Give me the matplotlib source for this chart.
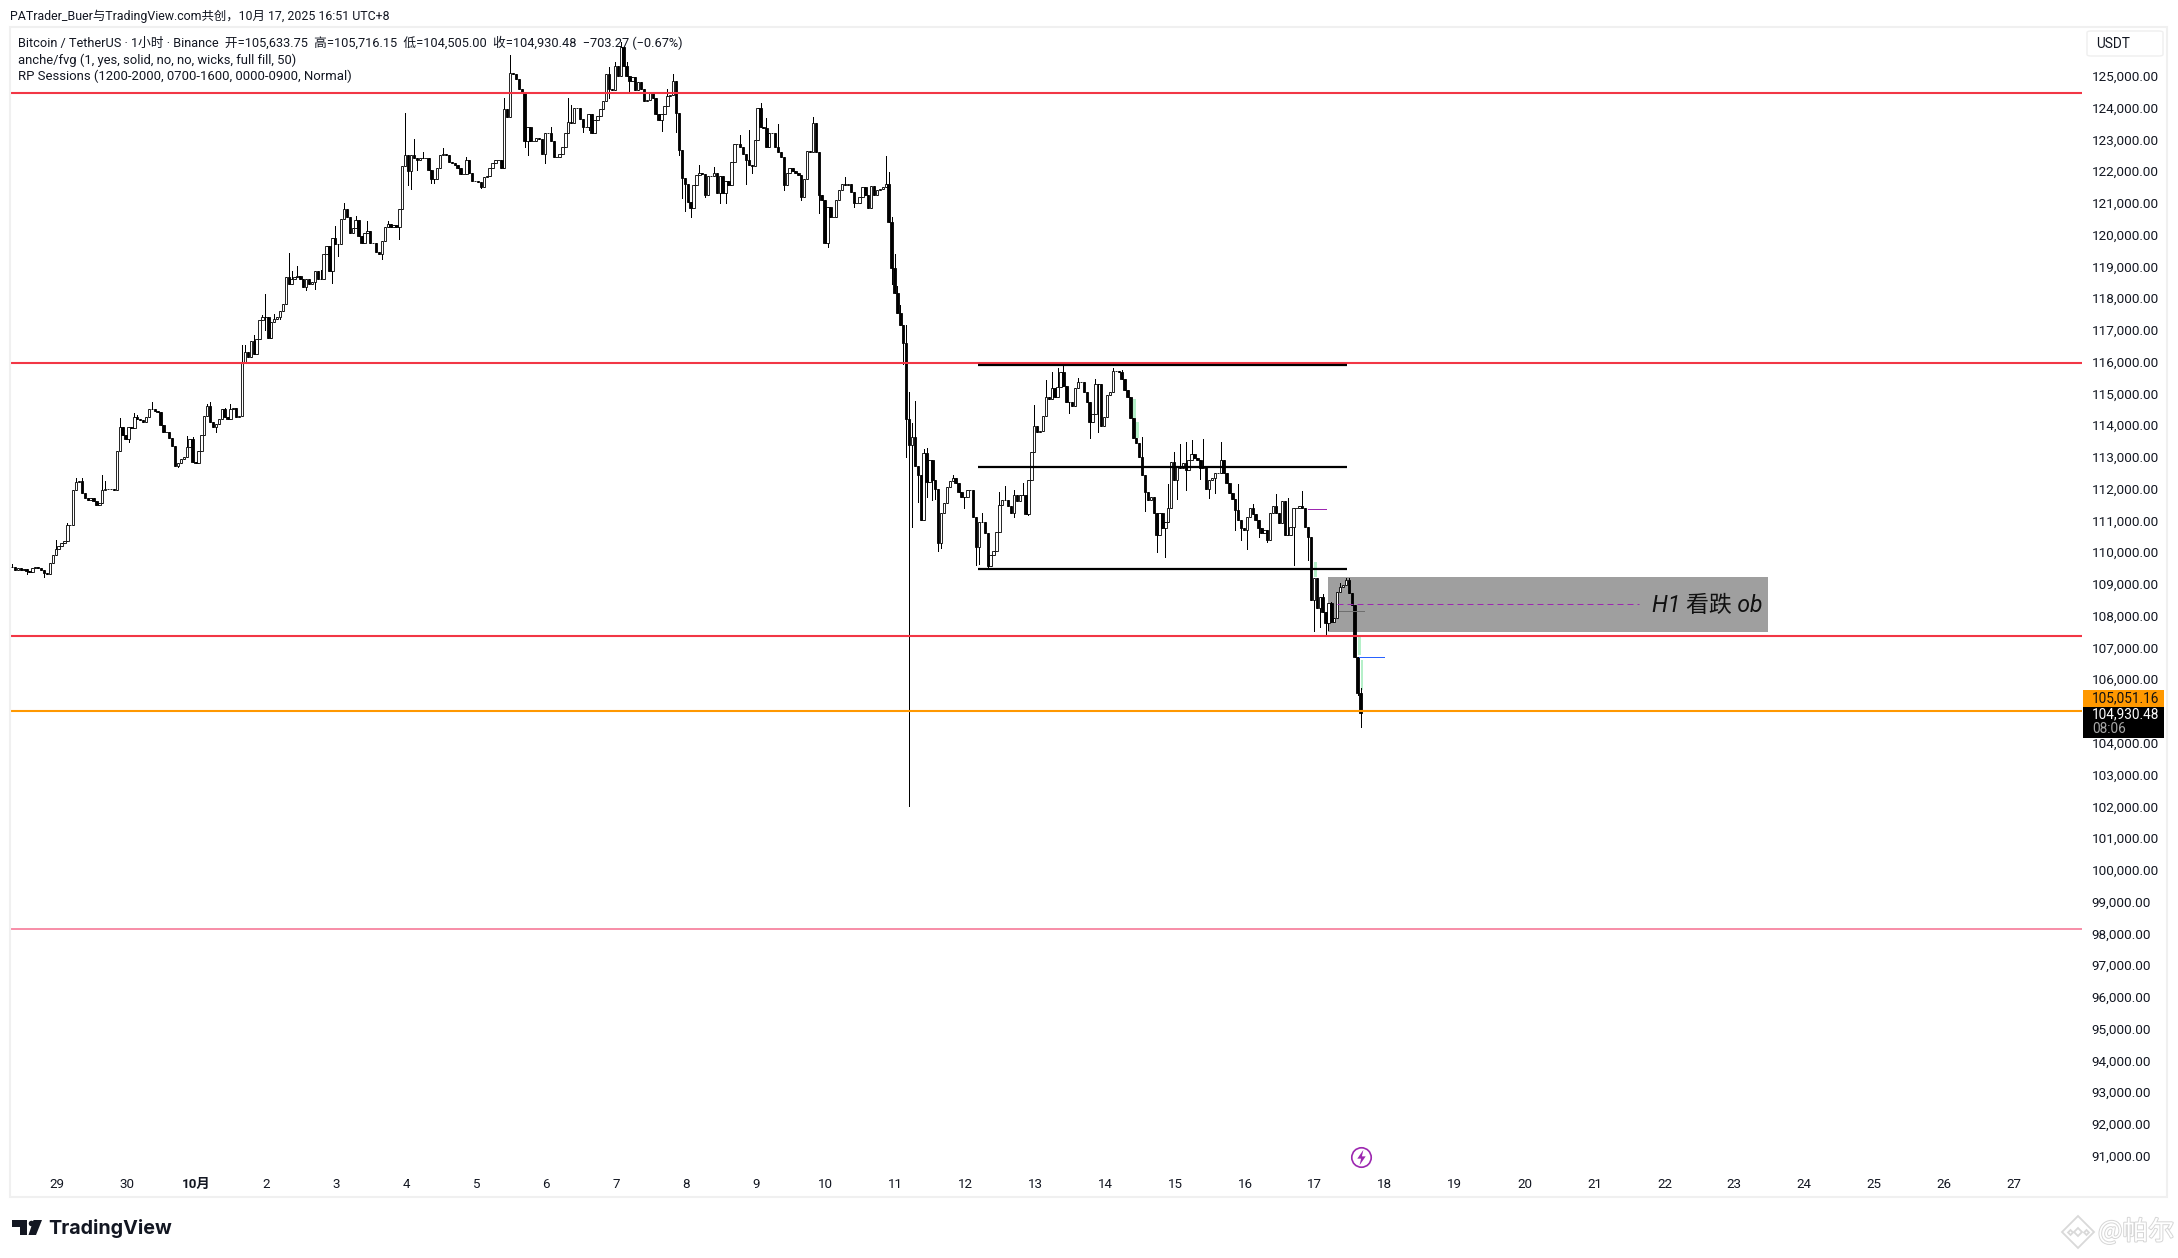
import matplotlib
matplotlib.use('Agg')
import matplotlib.pyplot as plt
import matplotlib.patheffects as pe
from matplotlib.lines import Line2D
from matplotlib.patches import Rectangle, FancyBboxPatch, Polygon
from matplotlib.path import Path
import numpy as np

# hourly closes in thousands of USDT, last bar is Oct 17 16:00
closes = [
    109.55, 109.45, 109.5, 109.45, 109.48, 109.42, 109.38, 109.5, 109.55, 109.5,
    109.45, 109.35, 109.3, 109.65, 109.9, 110.1, 110.2, 110.3, 110.35, 110.85,
    110.85, 111.95, 112.2, 112.25, 111.85, 111.7, 111.65, 111.7, 111.6, 111.5,
    111.55, 111.95, 112.0, 112.0, 112.0, 111.95, 113.2, 113.95, 113.7, 113.55,
    113.95, 113.9, 114.25, 114.2, 114.15, 114.1, 114.25, 114.5, 114.5, 114.45,
    114.4, 114.0, 113.8, 113.8, 113.6, 113.35, 112.7, 112.8, 112.95, 113.0,
    113.3, 113.55, 112.85, 112.8, 113.2, 113.7, 114.3, 114.6, 114.1, 113.95,
    114.05, 114.2, 114.5, 114.25, 114.2, 114.5, 114.55, 114.25, 114.3, 116.0,
    116.3, 116.15, 116.65, 116.25, 116.7, 117.3, 117.4, 117.4, 116.75, 117.25,
    117.35, 117.4, 117.6, 117.8, 118.65, 118.45, 118.6, 118.65, 118.7, 118.6,
    118.35, 118.6, 118.45, 118.5, 118.85, 118.6, 118.6, 119.4, 119.65, 118.85,
    119.9, 119.7, 119.7, 120.5, 120.8, 120.55, 120.05, 120.2, 120.45, 119.95,
    119.75, 120.05, 120.1, 119.75, 119.75, 119.45, 119.4, 119.8, 120.25, 120.35,
    120.25, 120.3, 120.25, 120.8, 122.15, 122.5, 122.0, 122.5, 122.4, 122.35,
    122.4, 122.4, 122.4, 122.05, 121.75, 121.75, 122.1, 122.5, 122.55, 122.5,
    122.3, 122.25, 122.2, 122.1, 121.9, 121.9, 122.35, 121.95, 121.7, 121.7,
    121.65, 121.5, 121.8, 121.85, 122.1, 122.25, 122.35, 122.35, 122.1, 123.95,
    123.7, 125.1, 125.05, 124.9, 124.6, 124.5, 122.95, 123.4, 122.95, 122.95,
    123.05, 123.0, 122.55, 123.2, 123.2, 122.95, 122.45, 122.45, 122.55, 122.75,
    123.2, 123.55, 123.5, 124.0, 124.0, 123.65, 123.4, 123.4, 123.8, 123.2,
    123.6, 123.75, 123.95, 124.2, 125.05, 124.6, 124.55, 125.3, 125.0, 125.9,
    125.3, 125.0, 124.85, 124.95, 124.55, 124.8, 124.6, 124.2, 124.25, 124.45,
    124.3, 123.8, 123.6, 123.8, 124.05, 124.35, 124.4, 124.85, 123.82, 122.66,
    121.77, 121.6, 121.04, 120.83, 121.56, 121.88, 121.93, 121.9, 121.25, 121.85,
    121.85, 121.95, 121.3, 121.85, 121.3, 121.7, 121.55, 122.3, 122.85, 122.85,
    122.75, 122.55, 122.35, 122.2, 122.15, 122.98, 123.98, 123.4, 123.35, 122.77,
    123.2, 123.2, 122.77, 122.6, 122.45, 121.56, 121.93, 122.09, 122.0, 121.95,
    121.88, 121.2, 121.74, 122.64, 122.6, 123.5, 122.6, 121.25, 121.1, 119.75,
    120.88, 120.56, 120.56, 121.09, 121.4, 121.6, 121.55, 121.6, 121.35, 120.98,
    120.98, 121.2, 121.5, 121.25, 120.85, 121.54, 121.25, 121.4, 121.45, 121.5,
    121.6, 120.41, 118.94, 118.15, 117.54, 117.17, 116.6, 114.21, 113.37,
    113.64, 112.7, 112.43, 111.0, 113.11, 112.22, 112.9, 112.28, 111.98, 110.3,
    111.25, 111.56, 112.05, 112.25, 112.33, 112.19, 111.91, 111.75, 111.75, 111.96,
    111.96, 111.12, 110.17, 110.96, 110.96, 110.6, 109.57, 109.91, 110.05, 110.65,
    111.49, 111.65, 111.65, 111.47, 111.25, 111.8, 111.6, 111.8, 111.8, 111.2,
    112.27, 113.14, 113.98, 113.77, 113.83, 114.29, 114.88, 114.82, 115.16, 114.9,
    115.2, 115.67, 115.24, 114.74, 114.74, 114.59, 115.16, 115.37, 115.37, 115.06,
    114.74, 114.11, 114.35, 115.3, 115.3, 113.96, 114.25, 114.95, 115.06, 115.72,
    115.72, 115.69, 115.45, 115.11, 114.9, 114.22, 113.59, 113.43, 112.99, 112.43,
    111.91, 111.65, 111.75, 111.25, 110.54, 111.25, 110.75, 110.96, 111.38, 112.85,
    112.27, 112.7, 112.64, 112.8, 112.59, 112.9, 113.1, 112.96, 112.9, 112.64,
    112.72, 111.98, 112.27, 112.33, 112.5, 112.5, 112.9, 112.5, 112.19, 111.85,
    111.67, 111.33, 111.02, 110.75, 110.7, 111.12, 111.38, 111.2, 111.02, 110.75,
    110.62, 110.7, 110.38, 111.25, 111.47, 111.25, 110.91, 111.6, 110.54, 110.54,
    110.8, 111.4, 111.38, 111.44, 111.38, 110.8, 110.47,
    108.5, 109.18, 108.23, 108.6, 108.13, 107.78, 108.39, 107.81, 107.92, 108.76,
    108.92, 108.97, 109.12, 108.73, 108.34, 106.71, 105.58, 104.93,
]

# wicks worth seeing: hour since Sep 29 00:00 and the price they reach
high_hours = [-15, 0, 4, 7, 9, 16, 17, 22, 27, 28, 33, 45, 47, 52, 53, 58, 60, 64, 65, 68, 71, 72, 75, 80, 81, 83,
              91, 96, 99, 103, 107, 114, 120, 123, 126, 133, 141, 154, 156, 170, 176, 177, 190, 192, 194, 196, 210,
              212, 221, 226, 235, 238, 242, 244, 248, 260, 271, 285, 286, 287, 288, 289, 290, 292, 293, 294, 295,
              298, 299, 308, 318, 324, 326, 329, 332, 336, 340, 342, 344, 346, 351, 357, 363, 366, 373, 382, 384,
              386, 388, 390, 394, 400, 406, 411, 419, 423, 428, 435, 438, 441, 443, 444, 448]
high_prices = [109.63, 110.39, 110.91, 112.33, 112.33, 112.42, 112.25, 114.22, 114.39, 114.33, 114.74, 113.66,
               113.64, 114.68, 114.72, 114.55, 114.68, 116.54, 116.52, 116.83, 117.47, 118.14, 117.5, 119.41,
               118.86, 119.0, 118.9, 120.26, 120.98, 120.6, 120.43, 120.43, 123.83, 123.0, 122.61, 122.72, 122.43,
               124.29, 125.66, 123.38, 124.29, 124.08, 125.29, 125.45, 126.07, 125.45, 124.58, 125.06, 122.19,
               122.14, 123.14, 123.3, 124.13, 123.66, 123.48, 123.69, 121.82, 122.48, 121.98, 120.56, 119.39,
               118.38, 117.78, 117.15, 115.06, 114.06, 114.76, 113.24, 113.27, 112.43, 111.22, 111.91, 112.1,
               111.95, 112.19, 114.64, 115.43, 115.69, 115.79, 115.9, 115.5, 115.45, 115.8, 115.75, 113.62, 112.15,
               113.14, 113.41, 113.48, 113.54, 113.57, 113.46, 112.15, 111.52, 111.83, 111.7, 111.93, 108.7,
               108.44, 109.04, 109.18, 109.18, 105.72]
low_hours = [-10, -4, 25, 42, 55, 72, 77, 86, 89, 95, 97, 112, 118, 121, 122, 124, 129, 130, 146, 161, 162, 168,
             172, 181, 183, 190, 197, 208, 213, 214, 215, 216, 217, 218, 223, 228, 230, 237, 239, 250, 256, 262,
             265, 274, 280, 287, 291, 292, 293, 294, 296, 299, 301, 302, 303, 304, 312, 316, 317, 320, 329, 334,
             348, 355, 358, 374, 378, 381, 385, 388, 393, 396, 398, 405, 407, 409, 413, 416, 425, 430, 432, 434,
             436, 437, 447, 448]
low_prices = [109.3, 109.23, 113.46, 112.69, 113.78, 117.0, 117.33, 118.25, 118.3, 118.49, 119.33, 119.23, 119.85,
              121.56, 121.44, 122.02, 121.64, 121.64, 121.46, 122.77, 122.51, 122.27, 122.43, 123.24, 123.3,
              124.29, 124.47, 123.27, 123.24, 122.51, 121.14, 120.75, 121.04, 120.54, 121.2, 121.0, 121.0, 121.6,
              121.93, 121.4, 121.09, 120.67, 119.6, 120.86, 120.83, 118.46, 115.92, 113.0, 102.0, 110.8, 111.59,
              111.74, 111.65, 111.69, 110.05, 110.12, 111.4, 109.6, 109.63, 109.49, 111.1, 111.17, 114.38, 113.59,
              113.77, 111.31, 110.0, 109.84, 111.67, 111.97, 112.3, 111.7, 111.86, 110.7, 110.37, 110.1, 110.49,
              110.33, 109.6, 109.74, 107.53, 107.66, 107.39, 107.55, 105.5, 104.5]

red_levels = [124.47, 115.96, 107.36]
orange_level = 105.0
pink_level = 98.15
range_levels = [115.9, 112.69, 109.47]

# unfilled gap strips beside the big drops: hour, bottom, top
fvg_hours = [370, 371, 432, 447, 448]
fvg_bottoms = [114.22, 113.59, 109.23, 106.76, 105.66]
fvg_tops = [114.82, 114.11, 109.7, 107.4, 106.6]

price_ticks = list(range(91, 126))
day_labels = ['29', '30', '10月'] + [str(d) for d in range(2, 28)]

W, H = 2178, 1258
CJK = ['Roboto', 'Noto Sans CJK SC', 'DejaVu Sans']
INK = '#131722'


def fx(x):
    return x / W


def fy(y):
    return 1 - y / H


def px_text(x, y, s, **kw):
    kw.setdefault('va', 'center')
    kw.setdefault('family', CJK)
    kw.setdefault('color', INK)
    return fig.text(fx(x), fy(y), s, **kw)


def px_box(x0, y0, x1, y1, **kw):
    r = Rectangle((fx(x0), fy(y1)), (x1 - x0) / W, (y1 - y0) / H, transform=fig.transFigure, **kw)
    fig.add_artist(r)
    return r


fig = plt.figure(figsize=(W / 100, H / 100), dpi=100, facecolor='white')
ax = fig.add_axes([fx(10), fy(1172), (2082 - 10) / W, (1172 - 27) / H])

# 55.7 px is Sep 29 00:00, 2.9125 px per hour, 31.76 px per 1000
ax.set_xlim((10 - 55.7) / 2.9125, (2082 - 55.7) / 2.9125)
ax.set_ylim(107 + (647.5 - 1172) / 31.76, 107 + (647.5 - 27) / 31.76)
for s in ax.spines.values():
    s.set_visible(False)

closes_arr = np.array(closes)
hours = np.arange(449 - len(closes), 449)
opens_arr = np.r_[closes_arr[0], closes_arr[:-1]]
highs = np.maximum(opens_arr, closes_arr)
lows = np.minimum(opens_arr, closes_arr)
for h, p in zip(high_hours, high_prices):
    highs[h - hours[0]] = max(p, highs[h - hours[0]])
for h, p in zip(low_hours, low_prices):
    lows[h - hours[0]] = min(p, lows[h - hours[0]])

ax.add_patch(Rectangle(((1328 - 55.7) / 2.9125, 107.5), (1768 - 1328) / 2.9125, 109.22 - 107.5,
                       facecolor='#9f9f9f', edgecolor='none', zorder=1))
ax.bar(fvg_hours, np.array(fvg_tops) - np.array(fvg_bottoms), bottom=fvg_bottoms, width=1.0, align='edge',
       color='#b5f0c9', linewidth=0, zorder=1.5)

ax.vlines(hours, lows, highs, color='black', linewidth=0.72, antialiased=False, zorder=2)
up = closes_arr >= opens_arr
ax.bar(hours[up], (closes_arr - opens_arr)[up], bottom=opens_arr[up], width=0.82, facecolor='white',
       edgecolor='black', linewidth=0.6, zorder=3)
ax.bar(hours[~up], (closes_arr - opens_arr)[~up], bottom=opens_arr[~up], width=0.82, facecolor='black',
       edgecolor='black', linewidth=0.6, zorder=3)

for lvl in red_levels:
    ax.axhline(lvl, color='#f23645', linewidth=1.5, zorder=4)
ax.axhline(orange_level, color='#ff9800', linewidth=1.5, zorder=4)
ax.axhline(pink_level, color='#f78da7', linewidth=1.4, zorder=4)
ax.hlines(range_levels, (978 - 55.7) / 2.9125, (1347 - 55.7) / 2.9125, color='black', linewidth=1.6, zorder=5)

ax.hlines(108.36, (1337 - 55.7) / 2.9125, (1639 - 55.7) / 2.9125, color='#9c27b0', linewidth=0.72,
          linestyles=(0, (6, 4)), zorder=4)
ax.hlines(108.14, (1339 - 55.7) / 2.9125, (1364 - 55.7) / 2.9125, color='#6f6f6f', linewidth=0.72,
          antialiased=False, zorder=4)
ax.hlines(106.69, (1359 - 55.7) / 2.9125, (1384 - 55.7) / 2.9125, color='#2962ff', linewidth=0.72,
          antialiased=False, zorder=4)
ax.hlines(111.35, (1308 - 55.7) / 2.9125, (1326 - 55.7) / 2.9125, color='#9c27b0', linewidth=0.72,
          antialiased=False, zorder=4)

ax.text((1762 - 55.7) / 2.9125, 108.33, 'H1 看跌 ob', ha='right', va='center', fontsize=16.5, style='italic',
        family=['Roboto', 'Noto Sans CJK SC'], color='#111111', zorder=6)

# session marker on the time scale
bolt = Path([(0.25, 1), (-0.55, -0.15), (-0.05, -0.15), (-0.25, -1), (0.55, 0.15), (0.05, 0.15), (0.25, 1)])
ax.plot([448], [90.97], marker='o', markersize=14, markerfacecolor='white', markeredgecolor='#9c27b0',
        markeredgewidth=1.2, zorder=6)
ax.plot([448], [90.97], marker=bolt, markersize=11, color='#9c27b0', markeredgewidth=0, zorder=7)

# labels sit about a pixel right of the midnight position
ax.set_xticks(np.arange(len(day_labels)) * 24 + 0.35)
ax.set_xticklabels(day_labels, family=CJK, fontsize=9.6, color=INK)
ax.get_xticklabels()[2].set_fontweight('bold')
ax.yaxis.tick_right()
ax.set_yticks(price_ticks)
ax.set_yticklabels(['%d,000.00' % p for p in price_ticks], family='Roboto', fontsize=9.7, color=INK)
ax.tick_params(axis='x', length=0, pad=4)
ax.tick_params(axis='y', length=0, pad=7)

# pane frame
px_box(10, 27, 2167, 1197, facecolor='none', edgecolor='#f0f0f0', linewidth=1.5, zorder=0.5)

# price labels
px_box(2083, 690, 2164, 707, facecolor='#ff9800', edgecolor='none', zorder=2)
px_box(2083, 707, 2164, 738, facecolor='black', edgecolor='none', zorder=2)
px_text(2092, 698, '105,051.16', family='Roboto', fontsize=9.8, color='#111111')
px_text(2092, 714.5, '104,930.48', family='Roboto', fontsize=9.8, color='white')
px_text(2092, 729, '08:06', family='Roboto', fontsize=9.8, color='#a8a8a8')

usdt = FancyBboxPatch((fx(2087), fy(56)), 76 / W, 25 / H, boxstyle='round,pad=0,rounding_size=0.002',
                      mutation_aspect=H / W, transform=fig.transFigure, facecolor='white', edgecolor='#efefef',
                      linewidth=1.0, zorder=2)
fig.add_artist(usdt)
px_text(2096, 43.5, 'USDT', family='Roboto', fontsize=9.8)

# header texts
px_text(10, 16, 'PATrader_Buer与TradingView.com共创，10月 17, 2025 16:51 UTC+8', fontsize=8.94)
px_text(18, 43, 'Bitcoin / TetherUS · 1小时 · Binance  开=105,633.75  高=105,716.15  低=104,505.00  收=104,930.48  '
                '−703.27 (−0.67%)', fontsize=9.15)
px_text(18, 60, 'anche/fvg (1, yes, solid, no, no, wicks, full fill, 50)', fontsize=9.35)
px_text(18, 76.5, 'RP Sessions (1200-2000, 0700-1600, 0000-0900, Normal)', fontsize=9.44)

# TradingView logo
fig.add_artist(Polygon([(fx(x), fy(y)) for x, y in [(12, 1220), (27, 1220), (27, 1235), (20, 1235), (20, 1227), (12, 1227)]],
                       closed=True, transform=fig.transFigure, facecolor='#131722', edgecolor='none'))
fig.add_artist(Polygon([(fx(x), fy(y)) for x, y in [(33.5, 1220), (42, 1220), (36, 1235), (28.5, 1235)]],
                       closed=True, transform=fig.transFigure, facecolor='#131722', edgecolor='none'))
fig.add_artist(Line2D([fx(30.7)], [fy(1222.5)], marker='o', markersize=4, color='#131722', markeredgewidth=0,
                      transform=fig.transFigure))
px_text(48.5, 1228, 'TradingView', family='Inter', fontsize=14.2, fontweight='bold', color='#131722')

# watermark
halo = [pe.withStroke(linewidth=1.4, foreground='#d6d6d6')]
for mx, my, ms in [(2078, 1232, 16), (2078, 1232, 4.5), (2070, 1232, 2.5), (2086, 1232, 2.5)]:
    fig.add_artist(Line2D([fx(mx)], [fy(my)], marker='D', markersize=ms, markerfacecolor='white',
                          markeredgecolor='#d9d9d9', markeredgewidth=1.3, transform=fig.transFigure))
px_text(2098, 1232, '@帕尔', family=['Noto Sans CJK SC', 'DejaVu Sans'], fontsize=18.6, color='white', path_effects=halo)

fig.savefig('out.png', dpi=100, facecolor='white')
